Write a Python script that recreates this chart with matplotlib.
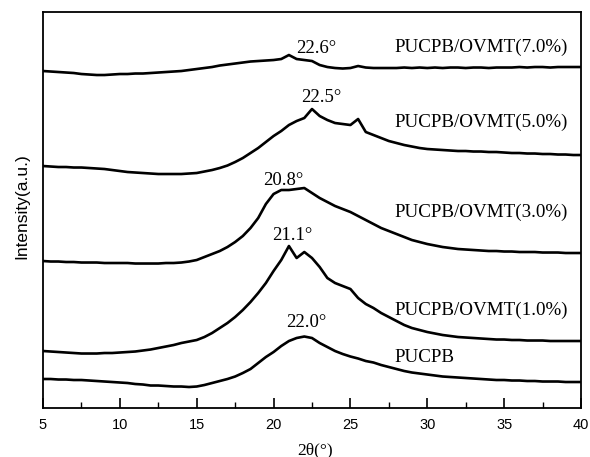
import numpy as np
import matplotlib
matplotlib.use('Agg')
import matplotlib.pyplot as plt
from matplotlib.ticker import MultipleLocator

# 2theta grid (degrees) and offset intensities
two_theta = np.arange(5.0, 40.01, 0.5)

pucpb = [29, 29, 28.5, 28.5, 28, 28, 27.5, 27, 26.5, 26, 25.5, 25, 24, 23.5, 22.5, 22.5,
         22, 21.5, 21.5, 21, 21.5, 23, 25, 27, 29, 31.5, 35, 39, 45, 51, 56, 62, 67, 70,
         71.5, 70, 65, 61, 57, 54, 51.5, 49.5, 47, 45.5, 43, 41, 39, 37, 35.5, 34.5, 33.5,
         32.5, 31.5, 31, 30.5, 30, 29.5, 29, 28.5, 28, 28, 27.5, 27.5, 27, 27, 26.5, 26.5,
         26.5, 26, 26, 26]
ovmt_1 = [57, 56.5, 56, 55.5, 55, 54.5, 54.5, 54.5, 55, 55, 55.5, 56, 56.5, 57.5, 58.5, 60,
          61.5, 63, 65, 66.5, 68, 71, 75, 80, 85, 91, 98, 106, 115, 125, 137, 148, 162, 150,
          156, 150, 141, 130, 125, 122, 119, 110, 104, 100, 95, 91, 87, 83, 80, 78, 76, 74.5,
          73, 72, 71, 70.5, 70, 69.5, 69, 68.5, 68.5, 68, 68, 67.5, 67.5, 67.5, 67, 67, 67,
          67, 67]
ovmt_3 = [147, 146.5, 146.5, 146, 146, 145.5, 145.5, 145.5, 145, 145, 145, 145, 144.5, 144.5,
          144.5, 144.5, 145, 145, 145.5, 146.5, 148, 151, 154, 157, 161, 166, 172, 180, 190,
          204, 214, 218, 218, 219, 220, 215, 210, 206, 202, 199, 196, 192, 188, 184, 180, 177,
          174, 171, 168, 166, 164, 162.5, 161, 160, 159, 158.5, 158, 157.5, 157, 157, 156.5,
          156.5, 156, 156, 156, 155.5, 155.5, 155.5, 155, 155, 155]
ovmt_5 = [242, 241.5, 241, 241, 240.5, 240.5, 240, 239.5, 239, 238, 237, 236, 235.5, 235,
          234.5, 234, 234, 234, 234, 234.5, 235, 236.5, 238, 240, 242.5, 246, 250, 255, 260,
          266, 272, 277, 283, 287, 290, 299, 292, 288, 285, 284, 283, 289, 276, 273, 270, 267,
          265, 263, 261.5, 260, 259, 258.5, 258, 257.5, 257, 257, 256.5, 256.5, 256, 256,
          255.5, 255, 255, 254.5, 254.5, 254, 254, 253.5, 253.5, 253, 253]
ovmt_7 = [337, 336.5, 336, 335.5, 335, 334, 333.5, 333, 333, 333.5, 334, 334, 334.5, 334.5,
          335, 335.5, 336, 336.5, 337, 338, 339, 340, 341, 342.5, 343.5, 344.5, 345.5, 346.5,
          347, 347.5, 348, 349, 353, 349, 348, 347, 343, 341, 340, 339.5, 340, 342, 340.5, 340,
          340, 340, 340, 340.5, 340, 340.5, 340, 340.5, 340, 340.5, 340.5, 340, 340.5, 340.5,
          340, 340.5, 340.5, 340.5, 341, 340.5, 341, 341, 340.5, 341, 341, 341, 341]

series = [pucpb, ovmt_1, ovmt_3, ovmt_5, ovmt_7]
names = ["PUCPB", "PUCPB/OVMT(1.0%)", "PUCPB/OVMT(3.0%)", "PUCPB/OVMT(5.0%)", "PUCPB/OVMT(7.0%)"]
name_y = [51, 98, 196, 286, 361]
peak_labels = ["22.0°", "21.1°", "20.8°", "22.5°", "22.6°"]
peak_x = [22.1, 21.2, 20.6, 23.1, 22.8]
peak_y = [86, 173, 228, 311, 360]

serif = ["Liberation Serif", "DejaVu Serif"]
sans = ["Liberation Sans", "DejaVu Sans"]

fig = plt.figure(figsize=(5.9, 4.57), dpi=100)
ax = fig.add_axes([0.0729, 0.1072, 0.9118, 0.8665])

for ys in series:
    ax.plot(two_theta, ys, color="black", linewidth=1.9)

for name, y in zip(names, name_y):
    ax.text(27.85, y, name, fontsize=13.7, family=serif, va="center", ha="left")
for lab, x, y in zip(peak_labels, peak_x, peak_y):
    ax.text(x, y, lab, fontsize=13.5, family=serif, va="center", ha="center")

ax.set_xlim(5, 40)
ax.set_ylim(0, 396)
ax.xaxis.set_major_locator(MultipleLocator(5))
ax.xaxis.set_minor_locator(MultipleLocator(2.5))
ax.tick_params(axis="x", which="major", direction="in", length=7, width=1.2, labelsize=10.5, pad=7)
ax.tick_params(axis="x", which="minor", direction="in", length=4, width=1.0)
ax.set_yticks([])
for lbl in ax.get_xticklabels():
    lbl.set_family(sans)
for sp in ax.spines.values():
    sp.set_linewidth(1.3)

ax.set_xlabel("2θ(°)", fontsize=12.5, family=serif)
ax.set_ylabel("Intensity(a.u.)", fontsize=12.5, family=sans)
ax.xaxis.set_label_coords(0.506, -0.106)
ax.yaxis.set_label_coords(-0.039, 0.51)
ax.xaxis.label.set_va("center")
ax.yaxis.label.set_va("center")

plt.savefig("out.png", dpi=100)
plt.close()
